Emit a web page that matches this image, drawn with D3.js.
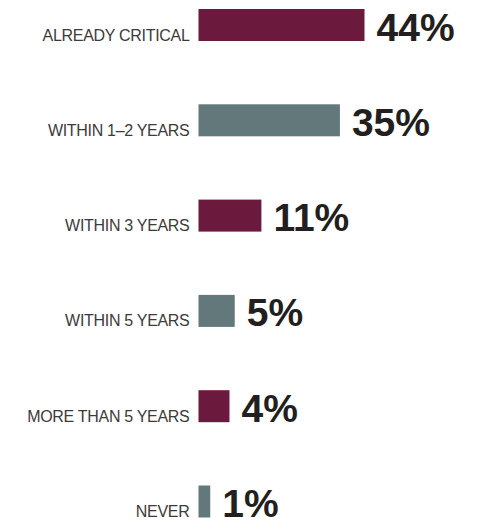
<!DOCTYPE html>
<html>
<head>
<meta charset="utf-8">
<script src="https://cdn.jsdelivr.net/npm/d3@7"></script>
<style>
  body { margin: 0; background: #fff; }
  text { font-family: "Liberation Sans", Arial, Helvetica, sans-serif; }
</style>
</head>
<body>
<div class="barChart"></div>
<script>
let width = 495
let height = 525

const categories = ["ALREADY CRITICAL", "WITHIN 1\u20132 YEARS", "WITHIN 3 YEARS", "WITHIN 5 YEARS", "MORE THAN 5 YEARS", "NEVER"]
const values = [44, 35, 11, 5, 4, 1]
const valueLabels = ["44%", "35%", "11%", "5%", "4%", "1%"]
const colors = ["#6b1a3e", "#63787a"]

const data = categories.map((c, i) => ({cat: c, val: values[i], label: valueLabels[i]}))

const barLeft = 198.5
const barH = 32

const svg = d3.select(".barChart")
  .append("svg")
  .attr("width", width)
  .attr("height", height)

// the original widths are not proportional, a compressed power scale gets close
const x = d3.scalePow()
  .exponent(0.7)
  .domain([0, 44])
  .range([0, 166])

const y = d3.scalePoint()
  .domain(categories)
  .range([25, 501.5])

const rows = svg.selectAll("g.row")
  .data(data)
  .enter()
  .append("g")
  .attr("class", "row")
  .attr("transform", d => `translate(0,${y(d.cat)})`)

rows.append("rect")
  .attr("x", barLeft)
  .attr("y", -barH / 2)
  .attr("width", d => x(d.val))
  .attr("height", barH)
  .style("fill", (d, i) => colors[i % 2])

rows.append("text")
  .attr("x", barLeft - 9)
  .attr("y", barH / 2 - 0.5)
  .attr("text-anchor", "end")
  .style("font-size", "16px")
  .style("letter-spacing", "-0.3px")
  .style("fill", "#3c3a3b")
  .text(d => d.cat)

rows.append("text")
  .attr("x", d => barLeft + x(d.val) + 12)
  .attr("y", barH / 2 - 0.5)
  .style("font-size", "39px")
  .style("font-weight", "bold")
  .style("fill", "#231f20")
  .text(d => d.label)
</script>
</body>
</html>
